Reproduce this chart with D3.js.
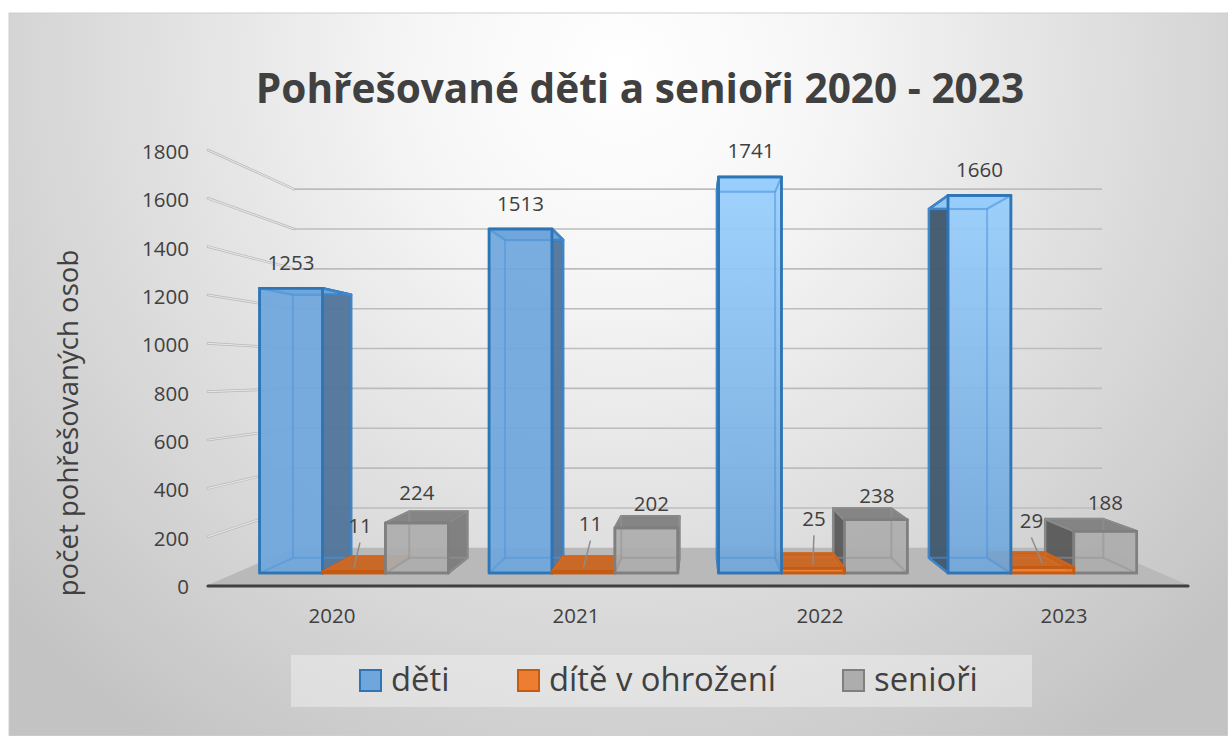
<!DOCTYPE html>
<html>
<head>
<meta charset="utf-8">
<script src="https://cdn.jsdelivr.net/npm/d3@7"></script>
<style>
  html, body { margin: 0; background: #fff; }
  svg { display: block; }
  text { font-family: "Open Sans", sans-serif; fill: #404040; }
</style>
</head>
<body>
<svg id="chart" width="1228" height="736"></svg>
<script>
const years = ["2020", "2021", "2022", "2023"];
const series = ["děti", "dítě v ohrožení", "senioři"];
const deti = [1253, 1513, 1741, 1660];
const ohrozeni = [11, 11, 25, 29];
const seniori = [224, 202, 238, 188];
const yTicks = [0, 200, 400, 600, 800, 1000, 1200, 1400, 1600, 1800];

// hand placed data labels from the original, [dx, dy] from the bar's front top
const labelNudge = {
  "děti": [[0, -24], [0, -24], [1, -25], [0, -25]],
  "dítě v ohrožení": [[6, -45], [7, -47], [1, -49], [-11, -46]],
  "senioři": [[0, -29], [5, -23], [1, -23], [0, -27]],
};

const values = { "děti": deti, "dítě v ohrožení": ohrozeni, "senioři": seniori };

const settings = {
  vanish: { x: 698, y: 373 },
  shrink: 0.1755, // how much the scene shrinks from front to back wall
  barFront: 0.32,
  barBack: 0.73,
};

const colors = {
  "děti": { line: "#2e75b6", inner: "#4f94d8", front: "#6fa6dc", side: "#50749a", left: "#3f566c", top: "#6fa6dc" },
  "dítě v ohrožení": { line: "#c55a11", inner: "#d9702c", front: "#ed7d31", side: "#b85a1c", left: "#b85a1c", top: "#c8641f" },
  "senioři": { line: "#7f7f7f", inner: "#949494", front: "#adadad", side: "#7b7b7b", left: "#585858", top: "#808080" },
};

const svg = d3.select("#chart");
const defs = svg.append("defs");

const bg = defs.append("radialGradient").attr("id", "bg")
  .attr("gradientUnits", "userSpaceOnUse")
  .attr("cx", 620).attr("cy", 70).attr("r", 820);
bg.append("stop").attr("offset", 0).attr("stop-color", "#ffffff");
bg.append("stop").attr("offset", 0.25).attr("stop-color", "#f6f6f6");
bg.append("stop").attr("offset", 1).attr("stop-color", "#c3c3c3");

const lightBlue = defs.append("linearGradient").attr("id", "lightBlue")
  .attr("gradientUnits", "userSpaceOnUse")
  .attr("x1", 0).attr("x2", 0).attr("y1", 170).attr("y2", 575);
lightBlue.append("stop").attr("offset", 0).attr("stop-color", "#9ad0ff");
lightBlue.append("stop").attr("offset", 1).attr("stop-color", "#70a6da");

svg.append("rect").attr("x", 9).attr("y", 13).attr("width", 1219).attr("height", 723)
  .attr("fill", "url(#bg)").attr("stroke", "#d0d0d0");

const x = d3.scaleBand().domain(years).range([208, 1188]);
const y = d3.scaleLinear().domain([0, 1800]).range([585, 150]);
// bars and axis labels sit on a slightly tighter step than the floor
const barX = d3.scaleBand().domain(years).range([210.5, 1183]);
const tickX = d3.scaleBand().domain(years).range([209, 1185]);
const serX = d3.scaleBand().domain(series).range([23, 223]);

// front plane x and y, depth 0 (front) to 1 (back wall)
function project(px, py, depth) {
  const s = 1 - settings.shrink * depth;
  return [
    settings.vanish.x + (px - settings.vanish.x) * s,
    settings.vanish.y + (py - settings.vanish.y) * s,
  ];
}

const line = d3.line();
const closed = (pts) => line(pts) + "Z";

// floor
const [x0, x1] = x.range();
svg.append("path")
  .attr("d", closed([project(x0, y(0), 0), project(x1, y(0), 0), project(x1, y(0), 1), project(x0, y(0), 1)]))
  .attr("fill", "#b9b9b9");

// gridlines, side wall and back wall
const grid = svg.append("g").attr("class", "grid");
const wallLine = (d) => line([project(x0, y(d), 0), project(x0, y(d), 1)]);
grid.selectAll("path.wall").data(yTicks.slice(1)).join("path").attr("class", "wall")
  .attr("d", wallLine)
  .attr("fill", "none").attr("stroke", "#b8b8b8").attr("stroke-width", 2.6).attr("stroke-linecap", "round");
grid.selectAll("path.wallcore").data(yTicks.slice(1)).join("path").attr("class", "wallcore")
  .attr("d", wallLine)
  .attr("fill", "none").attr("stroke", "#e4e4e4").attr("stroke-width", 1.2).attr("stroke-linecap", "round");
grid.selectAll("path.back").data(yTicks.slice(1)).join("path").attr("class", "back")
  .attr("d", (d) => line([project(x0, y(d), 1), project(x1, y(d), 1)]))
  .attr("fill", "none").attr("stroke", "#bcbcbc").attr("stroke-width", 1.6);

function drawBar(g, name, year, i) {
  const v = values[name][i];
  const c = colors[name];
  const left = barX(year) + serX(name);
  const right = left + serX.bandwidth();
  const top = y(v) + 1;
  const base = y(0);
  const f = settings.barFront;
  const b = settings.barBack;
  const front = [project(left, top, f), project(right, top, f), project(right, base, f), project(left, base, f)];
  const back = [project(left, top, b), project(right, top, b), project(right, base, b), project(left, base, b)];
  const lightBar = name === "děti" && i >= 2;
  const frontFill = lightBar ? "url(#lightBlue)" : c.front;

  const face = (pts, fill, op) => g.append("path").attr("d", closed(pts))
    .attr("fill", fill).attr("fill-opacity", op)
    .attr("stroke", c.line).attr("stroke-width", 2.5).attr("stroke-linejoin", "round");

  // only the side turned towards the vanishing point can be seen
  if (front[0][0] > settings.vanish.x) face([back[0], front[0], front[3], back[3]], c.left, 0.95);
  if (front[1][0] < settings.vanish.x) face([front[1], back[1], back[2], front[2]], c.side, 0.95);
  face([front[0], front[1], back[1], back[0]], lightBar ? "url(#lightBlue)" : c.top, 0.95);
  face(front, frontFill, name === "dítě v ohrožení" ? 0.95 : 0.92);

  // back edges showing through the see-through front
  const inner = g.append("g").attr("fill", "none").attr("stroke", c.inner)
    .attr("stroke-width", 2).attr("stroke-opacity", 0.55);
  inner.append("path").attr("d", closed(back));
  d3.range(4).forEach((k) => inner.append("path").attr("d", line([front[k], back[k]])));
  g.append("path").attr("d", closed(front)).attr("fill", "none")
    .attr("stroke", c.line).attr("stroke-width", 2.5);
}

const bars = svg.append("g").attr("class", "bars");
years.forEach((year, i) => {
  // painter's order, the right hand groups overlap the other way round
  const order = i < 2 ? series : series.slice().reverse();
  order.forEach((name) => drawBar(bars.append("g"), name, year, i));
});

// baseline
svg.append("line").attr("x1", x0).attr("x2", x1).attr("y1", 586).attr("y2", 586)
  .attr("stroke", "#404040").attr("stroke-width", 3.2).attr("stroke-linecap", "round");

// data labels
const labels = svg.append("g").attr("class", "labels").attr("text-anchor", "middle").attr("font-size", 20.5);
series.forEach((name) => {
  years.forEach((year, i) => {
    const cx = barX(year) + serX(name) + serX.bandwidth() / 2;
    const [px, py] = project(cx, y(values[name][i]), settings.barFront);
    const [dx, dy] = labelNudge[name][i];
    if (name === "dítě v ohrožení") {
      labels.append("line")
        .attr("x1", px + dx).attr("y1", py + dy + 17)
        .attr("x2", px).attr("y2", py - 3)
        .attr("stroke", "#8c8c8c").attr("stroke-width", 1.5);
    }
    labels.append("text").attr("x", px + dx).attr("y", py + dy)
      .attr("dy", "0.35em").text(values[name][i]);
  });
});

// axes
const yaxis = d3.axisLeft(y).tickValues(yTicks).tickFormat(d3.format("d")).tickSize(0).tickPadding(0);
svg.append("g").attr("transform", "translate(189, 2)")
  .call(yaxis)
  .call((g) => g.select(".domain").remove())
  .call((g) => g.selectAll(".tick text").attr("font-size", 20.5).attr("font-family", null).style("fill", "#404040"));

const xaxis = d3.axisBottom(tickX).tickSize(0).tickPadding(0);
svg.append("g").attr("transform", "translate(1, 608)")
  .call(xaxis)
  .call((g) => g.select(".domain").remove())
  .call((g) => g.selectAll(".tick text").attr("font-size", 20.5).attr("font-family", null).style("fill", "#404040"));

// titles
svg.append("text").attr("x", 640).attr("y", 103).attr("text-anchor", "middle")
  .attr("font-size", 40.6).attr("font-weight", 700).text("Pohřešované děti a senioři 2020 - 2023");

svg.append("text").attr("transform", "translate(78, 423) rotate(-90)").attr("text-anchor", "middle")
  .attr("font-size", 27.6).text("počet pohřešovaných osob");

// legend
svg.append("rect").attr("x", 291).attr("y", 655).attr("width", 741).attr("height", 52)
  .attr("fill", "#fff").attr("fill-opacity", 0.35);
const legendX = d3.scaleOrdinal().domain(series).range([360, 518, 843]);
const legend = svg.append("g").attr("class", "legend").selectAll("g").data(series).join("g")
  .attr("transform", (d) => `translate(${legendX(d)}, 670)`);
legend.append("rect").attr("width", 21).attr("height", 21)
  .attr("fill", (d) => colors[d].front).attr("stroke", (d) => colors[d].line).attr("stroke-width", 2);
legend.append("text").attr("x", 31).attr("y", 21).attr("font-size", 32.8).text((d) => d);
</script>
</body>
</html>
